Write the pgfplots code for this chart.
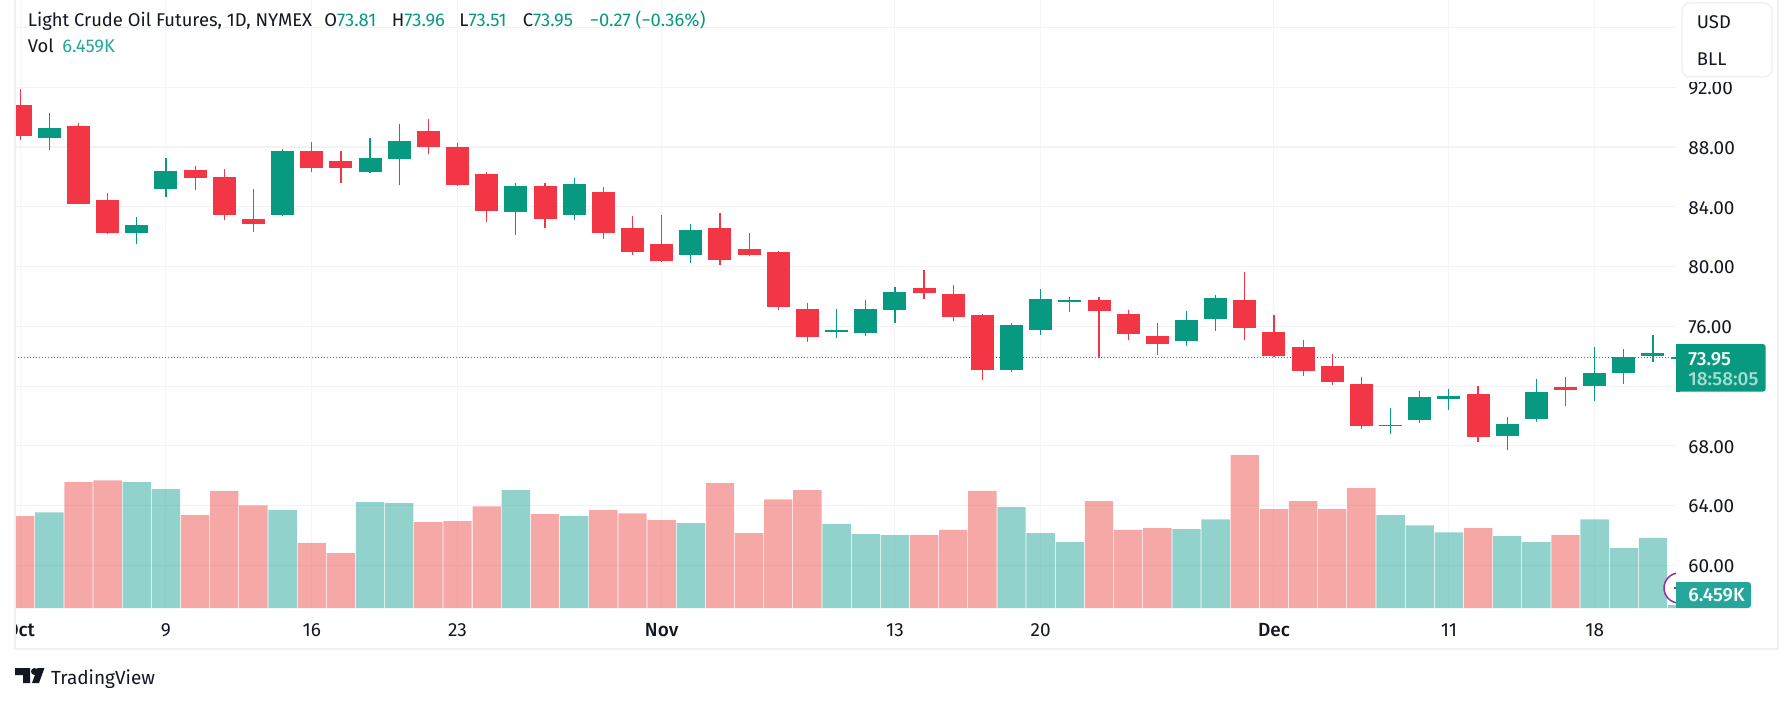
\documentclass[border=0pt]{standalone}
\usepackage{fontspec}
\setmainfont{Fira Sans}
\newfontfamily\firamed{Fira Sans Medium}
\usepackage{pgfplots}
\usepackage{pgfplotstable}
\pgfplotsset{compat=1.18}

\definecolor{up}{HTML}{089981}
\definecolor{down}{HTML}{F23645}
\definecolor{volup}{HTML}{26A69A}
\definecolor{voldown}{HTML}{EF5350}
\definecolor{ink}{HTML}{131722}
\definecolor{frame}{HTML}{F0F0F5}
\definecolor{hgrid}{HTML}{F3F3F5}
\definecolor{vgrid}{HTML}{F5F5F7}

% daily bars: open high low close, volume in K
\pgfplotstableread{
i O H L C V
0 90.82 91.89 88.47 88.74 198
2 89.41 89.61 84.17 84.19 271
3 84.46 84.93 82.18 82.25 275
6 86.47 86.73 85.13 85.93 200
7 86.00 86.53 83.12 83.45 252
8 83.19 85.20 82.32 82.85 221
10 87.74 88.34 86.33 86.60 140
11 87.07 87.74 85.60 86.60 118
14 89.08 89.88 87.54 88.01 185
15 88.01 88.27 85.40 85.46 187
16 86.20 86.33 82.99 83.72 219
18 85.40 85.60 82.58 83.19 202
20 84.99 85.33 81.85 82.25 211
21 82.58 83.39 80.78 80.98 204
22 81.51 83.45 80.31 80.38 189
24 82.58 83.59 80.11 80.44 269
25 81.18 82.25 80.71 80.78 161
26 80.98 81.05 77.10 77.30 234
27 77.16 77.56 74.95 75.29 254
31 78.57 79.77 77.83 78.23 157
32 78.17 78.77 76.36 76.63 168
33 76.76 76.83 72.41 73.08 252
37 77.77 77.97 73.86 77.03 230
38 76.83 77.10 75.09 75.49 168
39 75.36 76.23 74.08 74.82 172
42 77.77 79.64 75.09 75.89 329
43 75.62 76.76 73.95 74.02 213
44 74.62 75.09 72.68 73.01 230
45 73.35 74.15 72.08 72.28 213
46 72.14 72.61 69.13 69.33 258
50 71.47 72.01 68.26 68.60 172
53 71.94 72.61 70.67 71.74 157
}\downbars
\pgfplotstableread{
i O H L C V
1 88.61 90.28 87.81 89.28 206
4 82.25 83.32 81.51 82.79 271
5 85.20 87.27 84.66 86.40 256
9 83.45 87.87 83.39 87.74 211
12 86.33 88.61 86.27 87.27 228
13 87.20 89.55 85.46 88.41 226
17 83.66 85.60 82.12 85.40 254
19 83.45 85.93 83.12 85.53 198
23 80.78 82.85 80.24 82.45 183
28 75.62 77.16 75.22 75.76 181
29 75.56 77.77 75.36 77.16 159
30 77.10 78.64 76.23 78.30 157
34 73.08 76.23 72.95 76.09 217
35 75.76 78.50 75.42 77.83 161
36 77.63 77.97 76.96 77.77 142
40 75.02 77.03 74.69 76.43 170
41 76.49 78.10 75.69 77.90 191
47 69.33 70.54 68.80 69.40 200
48 69.73 71.67 69.53 71.27 178
49 71.14 71.81 70.40 71.34 163
51 68.66 69.93 67.73 69.47 155
52 69.80 72.48 69.60 71.61 142
54 72.01 74.62 71.00 72.88 191
55 72.88 74.49 72.14 73.95 129
56 74.02 75.42 73.62 74.22 151
57 73.81 73.96 73.51 73.95 6.459
}\upbars

\pgfplotsset{
  pane/.style={
    at={(7.5pt,47.5pt)}, anchor=south west,
    scale only axis, width=830.5pt, height=304pt,
    xmin=-0.178, xmax=56.79,
  },
  wick/.style={draw=none, forget plot, error bars/.cd, y dir=plus, y explicit,
    error mark=none, error bar style={line width=0.6pt, color=#1, line cap=butt}},
  body/.style={draw=none, forget plot, error bars/.cd, y dir=plus, y explicit,
    error mark=none, error bar style={line width=11.5pt, color=#1, line cap=butt}},
}

\begin{document}
\begin{tikzpicture}
\fill[white] (0,0) rectangle (896pt,351.5pt);
\useasboundingbox (0,0) rectangle (896pt,351.5pt);

\begin{axis}[pane,
  ymin=57.15, ymax=97.84,
  axis line style={draw=none},
  major tick length=0pt,
  grid=major,
  x grid style={vgrid, line width=0.5pt},
  y grid style={hgrid, line width=0.55pt},
  ytick={60,64,68,72,76,80,84,88,92,96},
  yticklabels={60.00,64.00,68.00,,76.00,80.00,84.00,88.00,92.00,},
  yticklabel pos=right,
  yticklabel style={anchor=west, inner sep=0pt, xshift=6pt, yshift=-0.5pt, font=\fontsize{9.5}{10}\selectfont, text=ink},
  xtick={0,5,10,15,22,30,35,43,49,54},
  xticklabels={\firamed Oct,9,16,23,\firamed Nov,13,20,\firamed Dec,11,18},
  xticklabel style={anchor=base, yshift=-14pt, font=\fontsize{9.5}{10}\selectfont, text=ink},
]
\addplot[up, line width=0.45pt, dash pattern=on 0.5pt off 1pt] coordinates {(-1,73.95) (58,73.95)};
\addplot[wick=down] table[x=i,y=L,y error plus expr=\thisrow{H}-\thisrow{L}] {\downbars};
\addplot[wick=up] table[x=i,y=L,y error plus expr=\thisrow{H}-\thisrow{L}] {\upbars};
\addplot[body=down] table[x=i,y=C,y error plus expr=\thisrow{O}-\thisrow{C}] {\downbars};
\addplot[body=up] table[x=i,y=O,y error plus expr=\thisrow{C}-\thisrow{O}] {\upbars};
\end{axis}

\begin{axis}[pane, hide axis, ymin=0, ymax=1309, ybar, bar width=14.2pt, bar shift=0pt]
\addplot[draw=none, fill=voldown, fill opacity=0.5] table[x=i,y=V] {\downbars};
\addplot[draw=none, fill=volup, fill opacity=0.5] table[x=i,y=V] {\upbars};
\end{axis}

% decoration, in image pixels from the top left corner
\begin{scope}[x=0.5pt,y=-0.5pt,yshift=351.5pt]
% frame
\fill[white] (0,608) rectangle (15,660);
\fill[frame] (14,0) rectangle (16,650);
\fill[frame] (14,648) rectangle (1779,650);
\fill[frame] (1777,0) rectangle (1779,650);

% header
\tikzset{t/.style={anchor=base west, inner sep=0pt, font=\fontsize{9.2}{10}\selectfont}}
\node[t, text=ink] at (27.5,27) {Light Crude Oil Futures, 1D, NYMEX};
\node[t, text=ink] at (324,27) {O\textcolor{up}{73.81}};
\node[t, text=ink] at (391.5,27) {H\textcolor{up}{73.96}};
\node[t, text=ink] at (459,27) {L\textcolor{up}{73.51}};
\node[t, text=ink] at (522.4,27) {C\textcolor{up}{73.95}};
\node[t, text=up] at (589.5,27) {−0.27 (−0.36\%)};
\node[t, text=ink] at (27.5,53) {Vol};
\node[t, text=volup] at (62,53) {6.459K};

% unit switch
\fill[white] (1682,70) rectangle (1772,82.5);
\draw[frame, fill=white, line width=0.75pt, rounded corners=4pt] (1682,3) rectangle (1772,77);
\node[t, text=ink] at (1696.5,28.5) {USD};
\node[t, text=ink] at (1696.5,66) {BLL};

% volume marker
\begin{scope}
\clip (1600,560) rectangle (1676,620);
\draw[color={rgb,255:red,156;green,39;blue,176}, fill=white, line width=0.75pt] (1679,588) circle (7.5pt);
\fill[color={rgb,255:red,156;green,39;blue,176}] (1674,587) rectangle (1676,589);
\end{scope}

% price and volume tags
\fill[up, rounded corners=1.5pt] (1676,344) rectangle (1765.7,391.7);
\fill[up] (1676,344) rectangle (1680,391.7);
\node[t, text=white] at (1688,365) {\fontsize{9.5}{10}\firamed\selectfont 73.95};
\node[t, text=white!65!up] at (1688,385.5) {\fontsize{9.5}{10}\firamed\selectfont 18:58:05};
\fill[volup, rounded corners=1.5pt] (1676,582) rectangle (1751,608);
\fill[volup] (1676,582) rectangle (1680,608);
\node[t, text=white] at (1688,601.7) {\fontsize{9.5}{10}\firamed\selectfont 6.459K};

% logo
\fill[ink] (15,668) -- (30,668) -- (30,683) -- (23,683) -- (23,675) -- (15,675) -- cycle;
\fill[ink] (34.5,671.5) circle (1.75pt);
\fill[ink] (37.5,668) -- (44.5,668) -- (39,683) -- (32,683) -- cycle;
\node[t, text=ink] at (50.7,684) {\fontsize{9.5}{10}\selectfont TradingView};
\end{scope}
\end{tikzpicture}
\end{document}
